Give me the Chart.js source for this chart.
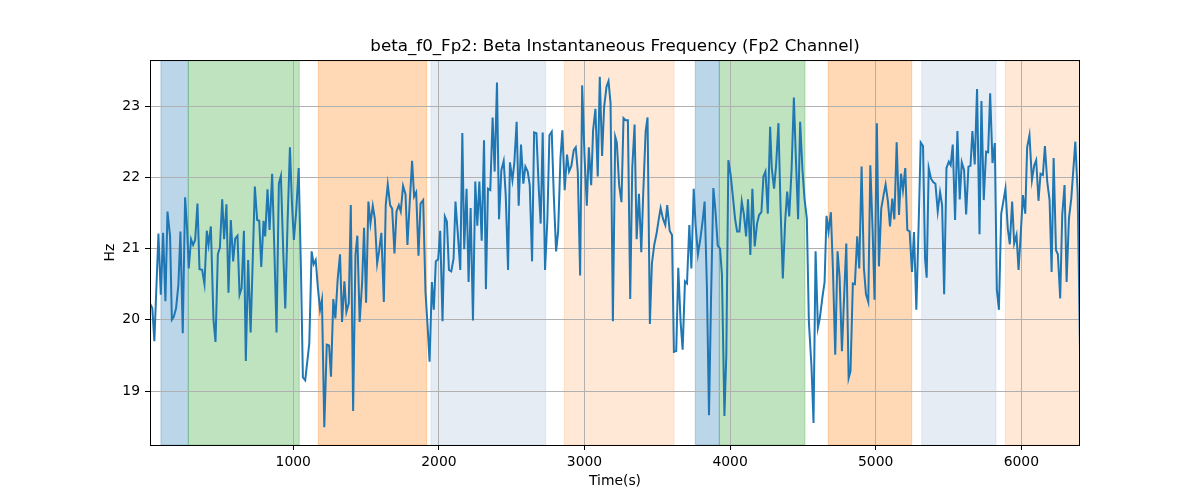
<!DOCTYPE html>
<html>
<head>
<meta charset="utf-8">
<script src="https://cdn.jsdelivr.net/npm/chart.js@4.4.0/dist/chart.umd.min.js"></script>
<style>
  html, body { margin: 0; padding: 0; background: #fff; }
  #wrap { width: 1200px; height: 500px; }
</style>
</head>
<body>
<div id="wrap"><canvas id="freqChart" width="1200" height="500"></canvas></div>
<script>
// time stamps (s) and instantaneous beta frequency (Hz)
const times = [
  16, 32, 46, 74, 90, 106, 122, 136, 154, 166, 179, 195, 211, 225, 241, 257, 271, 282, 298, 312,
  326, 342, 356, 374, 390, 406, 418, 434, 452, 466, 482, 496, 512, 525, 541, 555, 571, 587, 601, 617,
  631, 645, 661, 674, 690, 707, 720, 736, 752, 766, 780, 796, 807, 823, 837, 855, 871, 885, 901, 915,
  931, 945, 961, 977, 991, 1004, 1020, 1037, 1053, 1066, 1082,
  1110, 1126, 1140, 1154, 1169, 1184, 1197, 1213, 1230, 1246, 1259, 1275, 1289, 1305, 1321, 1335, 1351, 1365, 1381, 1395,
  1411, 1427, 1440, 1456, 1473, 1486, 1500, 1516, 1530, 1546, 1560, 1576, 1589, 1605, 1622, 1635, 1649, 1665, 1679, 1695,
  1709, 1725, 1738, 1754, 1771, 1784, 1800, 1816, 1830, 1844, 1860, 1874, 1892, 1908, 1922, 1936, 1952, 1965, 1979, 1995,
  2009, 2025, 2041, 2055, 2069, 2085, 2101, 2114, 2130, 2147,
  2161, 2174, 2190, 2204, 2218, 2234, 2250, 2264, 2278, 2294, 2310, 2323, 2337, 2353, 2369, 2383, 2399, 2413, 2429, 2445,
  2459, 2475, 2488, 2505, 2518, 2534, 2548, 2564, 2580, 2594, 2610, 2624, 2640, 2654, 2670, 2686, 2699, 2713, 2729, 2745,
  2759, 2775, 2789, 2805, 2819, 2835, 2848, 2864, 2880, 2894, 2910, 2926, 2940, 2954, 2970, 2984, 3000, 3016, 3030, 3046,
  3059, 3075, 3091, 3105, 3121, 3135, 3151, 3165, 3179, 3195, 3211,
  3222, 3238, 3254, 3268, 3282, 3298, 3314, 3328, 3344, 3358, 3374, 3390, 3403, 3420, 3433, 3449, 3463, 3479, 3495, 3509,
  3523, 3539, 3555, 3568, 3585, 3601, 3614, 3630, 3644, 3660, 3674, 3690, 3704, 3720, 3734, 3750, 3763, 3779, 3796, 3812,
  3825, 3841, 3855, 3869, 3885, 3899, 3915, 3931, 3944, 3961, 3974, 3988, 4004, 4018, 4034, 4048, 4064, 4080, 4094, 4110,
  4123, 4139, 4153, 4169, 4185, 4199, 4215, 4229, 4243, 4259, 4275,
  4286, 4302, 4316, 4332, 4346, 4362, 4378, 4392, 4406, 4422, 4438, 4451, 4467, 4481, 4497, 4511, 4527, 4541, 4559, 4573,
  4587, 4603, 4616, 4633, 4649, 4662, 4676, 4692, 4706, 4722, 4738, 4752, 4768, 4784, 4798, 4814, 4827, 4843, 4857, 4873,
  4887, 4903, 4919, 4933, 4949, 4963, 4979, 4992, 5008, 5022, 5038, 5054, 5068, 5084, 5098, 5114, 5128, 5144, 5160, 5174,
  5187, 5203, 5217, 5233, 5249, 5263, 5279, 5295, 5309, 5325, 5339,
  5350, 5364, 5380, 5396, 5410, 5426, 5442, 5456, 5470, 5486, 5502, 5515, 5529, 5545, 5561, 5577, 5591, 5607, 5621, 5637,
  5651, 5664, 5680, 5696, 5713, 5726, 5742, 5758, 5772, 5786, 5802, 5818, 5832, 5846, 5862, 5878, 5891, 5907, 5921, 5937,
  5951, 5967, 5981, 5995, 6011, 6027, 6040, 6056, 6073, 6089, 6102, 6118, 6132, 6148, 6162, 6178, 6194, 6208, 6222, 6238,
  6251, 6267, 6281, 6297, 6311, 6327, 6343, 6357, 6371, 6387, 6403
];

const freqHz = [
  20.23, 20.16, 19.70, 21.21, 20.35, 21.22, 20.26, 21.52, 21.17, 20.00, 20.04, 20.16, 20.49, 21.24, 19.81, 21.72, 21.28, 20.72, 21.13, 21.05,
  21.12, 21.63, 20.71, 20.70, 20.50, 21.25, 21.05, 21.31, 20.00, 19.69, 20.92, 21.01, 21.69, 21.13, 21.62, 20.38, 21.40, 20.82, 21.14, 21.18,
  20.35, 20.44, 21.25, 19.42, 20.84, 19.82, 20.72, 21.87, 21.40, 21.39, 20.74, 21.39, 21.17, 21.83, 21.26, 22.05, 20.91, 19.82, 21.91, 22.02,
  20.96, 20.16, 21.38, 22.42, 21.63, 21.12, 21.52, 22.13, 20.67, 19.19, 19.15,
  19.67, 20.96, 20.78, 20.84, 20.45, 20.14, 20.28, 18.49, 19.65, 19.64, 19.20, 20.29, 20.02, 20.57, 20.92, 19.97, 20.54, 20.11, 20.23, 21.61,
  18.72, 20.91, 21.18, 19.97, 20.53, 21.29, 20.24, 21.66, 21.35, 21.60, 21.42, 20.79, 20.96, 21.22, 20.25, 21.61, 21.90, 21.61, 21.56, 20.93,
  21.52, 21.61, 21.52, 21.88, 21.76, 21.05, 21.66, 22.23, 21.73, 21.79, 20.90, 21.63, 21.68, 20.39, 19.93, 19.41, 20.53, 20.14, 20.82, 20.85,
  21.25, 19.98, 21.45, 21.38, 20.70, 20.68, 20.86, 21.66, 21.21, 20.70,
  22.62, 20.99, 21.84, 20.53, 21.57, 19.99, 21.94, 21.32, 21.94, 21.11, 22.52, 20.43, 21.84, 21.82, 22.84, 22.08, 23.33, 21.41, 22.10, 22.23,
  21.75, 20.70, 22.21, 21.96, 22.20, 22.78, 21.60, 22.46, 21.91, 22.15, 22.08, 21.89, 20.82, 22.63, 22.62, 21.84, 21.35, 22.63, 20.70, 21.40,
  22.59, 22.64, 21.75, 20.96, 21.24, 22.27, 22.66, 21.82, 22.32, 22.08, 22.16, 22.38, 22.42, 22.08, 20.62, 23.29, 22.31, 21.60, 22.42, 21.89,
  22.66, 22.96, 22.01, 23.41, 22.30, 22.99, 23.27, 23.35, 23.04, 19.98, 22.57,
  22.49, 21.89, 21.65, 22.83, 22.80, 22.80, 20.29, 22.13, 22.74, 21.13, 21.77, 20.95, 21.75, 22.65, 22.84, 19.94, 20.79, 21.05, 21.21, 21.40,
  21.57, 21.42, 21.33, 21.61, 21.25, 21.19, 19.55, 19.56, 20.73, 19.97, 19.58, 20.54, 20.51, 21.33, 20.72, 21.84, 21.33, 20.92, 21.14, 21.40,
  21.66, 20.44, 18.66, 20.29, 21.85, 21.54, 21.04, 21.00, 20.63, 18.65, 19.51, 22.24, 22.03, 21.75, 21.42, 21.24, 21.24, 21.66, 21.49, 21.17,
  21.69, 20.91, 21.84, 21.03, 21.35, 21.47, 21.51, 22.01, 22.08, 21.49, 22.71,
  22.13, 21.84, 22.17, 22.76, 21.61, 20.58, 21.38, 21.80, 21.45, 22.10, 23.12, 22.31, 21.41, 22.78, 22.10, 21.70, 21.42, 19.97, 19.34, 18.55,
  20.96, 19.89, 20.02, 20.30, 20.53, 21.46, 21.24, 21.51, 20.72, 19.51, 20.96, 20.60, 19.56, 20.37, 21.07, 19.18, 19.28, 20.51, 20.50, 21.17,
  20.72, 22.15, 20.72, 20.36, 20.25, 22.17, 21.24, 20.28, 22.76, 20.75, 21.56, 21.75, 21.90, 21.66, 21.31, 21.70, 21.41, 22.49, 21.47, 22.05,
  21.82, 22.13, 21.26, 21.24, 20.67, 21.23, 20.14, 21.35, 22.49, 22.44, 20.86,
  20.59, 22.13, 21.98, 21.93, 21.91, 21.52, 21.79, 21.61, 20.36, 22.13, 22.22, 22.17, 22.46, 21.40, 22.65, 21.69, 22.21, 22.10, 21.48, 22.15,
  22.16, 22.65, 22.18, 23.24, 21.20, 23.07, 21.68, 22.36, 22.35, 23.18, 22.20, 22.48, 20.42, 20.14, 21.49, 21.68, 21.84, 21.28, 21.06, 21.66,
  21.07, 21.19, 20.70, 21.17, 21.75, 21.49, 22.42, 22.59, 21.96, 22.17, 22.24, 21.67, 22.05, 22.03, 22.44, 21.94, 21.68, 20.67, 22.27, 20.98,
  20.92, 20.30, 21.47, 21.89, 20.53, 21.42, 21.70, 22.10, 22.50, 21.77, 19.59
];

// shaded intervals (s)
const spanStarts = [91, 279, 1172, 1946, 2861, 3761, 3926, 4674, 5316, 5890];
const spanEnds   = [279, 1041, 1916, 2733, 3615, 3926, 4514, 5247, 5826, 6403];
const spanKinds  = ["blue", "green", "orange", "lightblue", "lightorange",
                    "blue", "green", "orange", "lightblue", "lightorange"];

const xTicks = [1000, 2000, 3000, 4000, 5000, 6000];
const yTicks = [19, 20, 21, 22, 23];

const spanColors = {
  blue: "rgba(31,119,180,0.3)",
  green: "rgba(44,160,44,0.3)",
  orange: "rgba(255,127,14,0.3)",
  lightblue: "rgba(176,196,222,0.33)",
  lightorange: "rgba(255,127,14,0.17)"
};

const points = times.map((t, i) => ({ x: t, y: freqHz[i] }));

const spanPlugin = {
  id: "spans",
  beforeDraw(chart) {
    const { ctx, chartArea, scales } = chart;
    ctx.save();
    ctx.beginPath();
    ctx.rect(chartArea.left, chartArea.top, chartArea.right - chartArea.left, chartArea.bottom - chartArea.top);
    ctx.clip();
    spanStarts.forEach((s, i) => {
      const x0 = scales.x.getPixelForValue(s);
      const x1 = scales.x.getPixelForValue(spanEnds[i]);
      ctx.fillStyle = spanColors[spanKinds[i]];
      ctx.fillRect(x0, chartArea.top, x1 - x0, chartArea.bottom - chartArea.top);
      ctx.strokeStyle = spanColors[spanKinds[i]];
      ctx.lineWidth = 1;
      ctx.strokeRect(x0, chartArea.top, x1 - x0, chartArea.bottom - chartArea.top);
    });
    ctx.restore();
  },
  afterDraw(chart) {
    const { ctx, chartArea } = chart;
    ctx.save();
    ctx.strokeStyle = "#000";
    ctx.lineWidth = 1;
    ctx.strokeRect(chartArea.left + 0.5, chartArea.top + 0.5,
      chartArea.right - chartArea.left - 1, chartArea.bottom - chartArea.top);
    ctx.restore();
  }
};

Chart.defaults.font.family = "'DejaVu Sans', sans-serif";
Chart.defaults.color = "#000";

new Chart(document.getElementById("freqChart").getContext("2d"), {
  type: "line",
  data: {
    datasets: [{
      data: points,
      borderColor: "#1f77b4",
      borderWidth: 2,
      pointRadius: 0,
      tension: 0,
      fill: false
    }]
  },
  options: {
    responsive: false,
    animation: false,
    layout: { padding: { left: 100, right: 120, top: 37, bottom: 0 } },
    plugins: {
      legend: { display: false },
      tooltip: { enabled: false },
      title: {
        display: true,
        fullSize: false,
        text: "beta_f0_Fp2: Beta Instantaneous Frequency (Fp2 Channel)",
        font: { size: 16.7, weight: "normal" },
        color: "#000",
        padding: { top: 0, bottom: 3 }
      }
    },
    scales: {
      x: {
        type: "linear",
        min: 16,
        max: 6403,
        afterBuildTicks: s => { s.ticks = xTicks.map(v => ({ value: v })); },
        afterFit: s => { s.height = 55; },
        ticks: { font: { size: 13.9 }, padding: 4, maxRotation: 0, callback: v => String(v) },
        grid: { color: "#b0b0b0", lineWidth: 1, tickColor: "#000", tickLength: 5 },
        border: { display: false },
        title: { display: true, text: "Time(s)", font: { size: 13.9 }, padding: { top: 0, bottom: 10 } }
      },
      y: {
        min: 18.242,
        max: 23.646,
        afterBuildTicks: s => { s.ticks = yTicks.map(v => ({ value: v })); },
        afterFit: s => { s.width = 50; },
        ticks: { font: { size: 13.9 }, padding: 5, callback: v => String(v) },
        grid: { color: "#b0b0b0", lineWidth: 1, tickColor: "#000", tickLength: 5 },
        border: { display: false },
        title: { display: true, text: "Hz", font: { size: 13.9 }, padding: { top: 2, bottom: 0 } }
      }
    }
  },
  plugins: [spanPlugin]
});
</script>
</body>
</html>
